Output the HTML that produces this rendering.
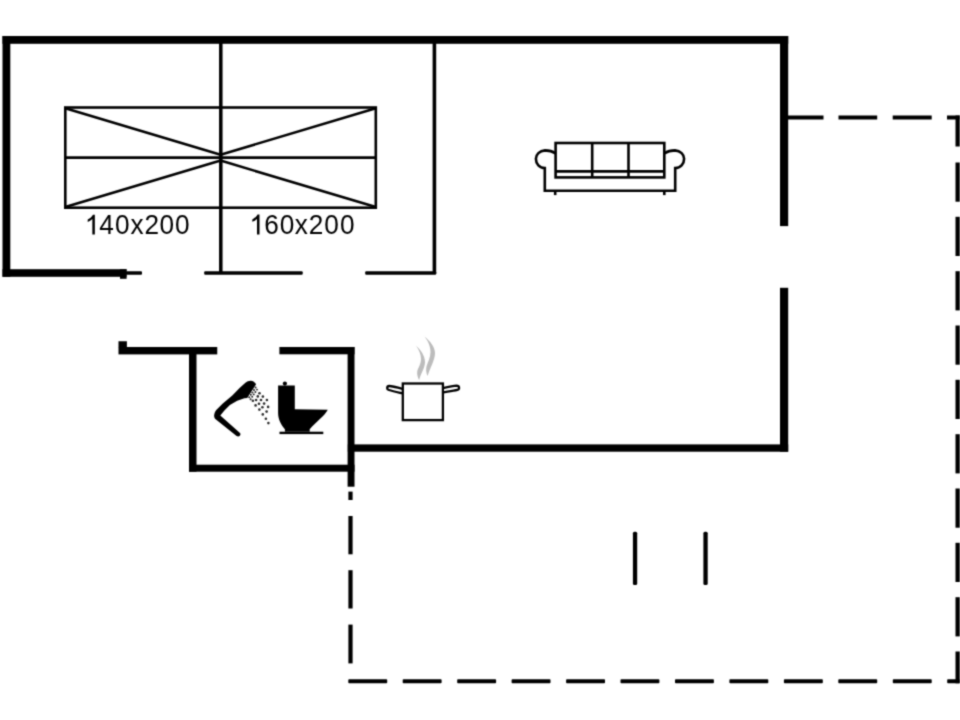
<!DOCTYPE html>
<html>
<head>
<meta charset="utf-8">
<style>
html,body{margin:0;padding:0;background:#fff;width:960px;height:720px;overflow:hidden;}
svg{display:block;}
text{font-family:"Liberation Sans", sans-serif;}
</style>
</head>
<body>
<svg width="960" height="720" viewBox="0 0 960 720">
<defs><filter id="soft" x="-2%" y="-2%" width="104%" height="104%"><feConvolveMatrix order="3" kernelMatrix="1 3 1 3 12 3 1 3 1" divisor="28" edgeMode="none"/></filter></defs>
<rect x="0" y="0" width="960" height="720" fill="#fff"/>
<g filter="url(#soft)">
<g fill="#000">
  <!-- outer walls upper block -->
  <rect x="2.5" y="36" width="785.7" height="7.8"/>
  <rect x="2.5" y="36" width="7.8" height="240.8"/>
  <rect x="2.5" y="269.2" width="124" height="7.6"/>
  <rect x="120" y="269.2" width="6.6" height="9.6"/>
  <rect x="126" y="271.2" width="16" height="3.5" rx="1"/>
  <rect x="204.2" y="271.2" width="98.5" height="3.5" rx="1"/>
  <rect x="365.2" y="271.2" width="71" height="3.5" rx="1"/>
  <rect x="219.05" y="43" width="3.5" height="231"/>
  <rect x="432.6" y="43" width="3.6" height="231"/>
  <rect x="780" y="36" width="8.2" height="190.1"/>
  <rect x="780" y="287.8" width="8.2" height="163.9"/>
  <rect x="347.8" y="444.4" width="440.4" height="7.3"/>
  <!-- bathroom -->
  <rect x="347.6" y="347" width="6.9" height="139.7"/>
  <rect x="279.4" y="347" width="75.1" height="7.3"/>
  <rect x="118.5" y="347" width="98.75" height="7.4"/>
  <rect x="118.5" y="341.25" width="8.4" height="6"/>
  <rect x="189" y="347" width="7.5" height="124.7"/>
  <rect x="189" y="464.7" width="165.5" height="7"/>
  <!-- interior vertical lines -->
  <rect x="632.9" y="531.7" width="4.3" height="53.3" rx="1.5"/>
  <rect x="703.4" y="531.7" width="4.3" height="53.3" rx="1.5"/>
</g>

<!-- dashed outline -->
<g fill="#000">
  <!-- top -->
  <rect x="785" y="115.5" width="38.5" height="4"/>
  <rect x="838.5" y="115.5" width="38.7" height="4"/>
  <rect x="892.7" y="115.5" width="39" height="4"/>
  <rect x="947" y="115.5" width="12.8" height="4"/>
  <rect x="955.5" y="115.5" width="4.3" height="31"/>
  <!-- right -->
  <rect x="955.5" y="162.5" width="4.3" height="39.2"/>
  <rect x="955.5" y="216.8" width="4.3" height="39.2"/>
  <rect x="955.5" y="271.2" width="4.3" height="39.2"/>
  <rect x="955.5" y="325.5" width="4.3" height="39.2"/>
  <rect x="955.5" y="379.8" width="4.3" height="39.2"/>
  <rect x="955.5" y="434.2" width="4.3" height="39.2"/>
  <rect x="955.5" y="488.5" width="4.3" height="39.2"/>
  <rect x="955.5" y="542.8" width="4.3" height="39.2"/>
  <rect x="955.5" y="597.2" width="4.3" height="39.2"/>
  <rect x="955.5" y="651.5" width="4.3" height="31.8"/>
  <!-- bottom -->
  <rect x="348.3" y="679.2" width="38.9" height="4.1" rx="0.8"/>
  <rect x="402.7" y="679.2" width="38.9" height="4.1" rx="0.8"/>
  <rect x="457.2" y="679.2" width="38.9" height="4.1" rx="0.8"/>
  <rect x="511.6" y="679.2" width="38.9" height="4.1" rx="0.8"/>
  <rect x="566.1" y="679.2" width="38.9" height="4.1" rx="0.8"/>
  <rect x="620.5" y="679.2" width="38.9" height="4.1" rx="0.8"/>
  <rect x="675" y="679.2" width="38.9" height="4.1" rx="0.8"/>
  <rect x="729.4" y="679.2" width="38.9" height="4.1" rx="0.8"/>
  <rect x="783.9" y="679.2" width="38.9" height="4.1" rx="0.8"/>
  <rect x="838.3" y="679.2" width="38.9" height="4.1" rx="0.8"/>
  <rect x="892.8" y="679.2" width="38.9" height="4.1" rx="0.8"/>
  <rect x="947.2" y="679.2" width="12.6" height="4.1" rx="0.8"/>
  <!-- left -->
  <rect x="348.4" y="491.6" width="4.2" height="8.4"/>
  <rect x="348.4" y="516" width="4.2" height="38.3"/>
  <rect x="348.4" y="570.2" width="4.2" height="38.3"/>
  <rect x="348.4" y="624.6" width="4.2" height="38.8"/>
</g>

<!-- bed -->
<g stroke="#000" stroke-width="2.6" fill="none">
  <rect x="65.3" y="107.5" width="310.5" height="100.2"/>
  <line x1="65.3" y1="157.6" x2="375.8" y2="157.6"/>
  <line x1="65.3" y1="108.3" x2="220.6" y2="154.7"/>
  <line x1="65.3" y1="207.1" x2="220.6" y2="160.6"/>
  <line x1="375.8" y1="108.3" x2="220.6" y2="154.7"/>
  <line x1="375.8" y1="207.1" x2="220.6" y2="160.6"/>
</g>
<path fill="#000" d="M94.85,214.8 L94.85,234.6 L92.35,234.6 L92.35,219.1 C91,220.3 89.4,221.3 87.7,222 L87.7,219.6 C90.1,218.4 92,216.6 93,214.8 Z"/>
<g transform="scale(0.92,1)"><text x="107.80 124.95 141.90 156.96 173.26 190.27" y="234.4" font-size="28.5" fill="#000">40x200</text></g>
<path fill="#000" d="M259.5,214.6 L259.5,234.6 L257,234.6 L257,218.9 C255.6,220.1 254,221.1 252.3,221.8 L252.3,219.4 C254.7,218.2 256.6,216.4 257.6,214.6 Z"/>
<g transform="scale(0.92,1)"><text x="287.26 304.18 320.43 335.54 352.5 369.46" y="234.4" font-size="28.5" fill="#000">60x200</text></g>

<!-- sofa -->
<g stroke="#000" stroke-width="2.6" fill="none" transform="translate(0,0.5)">
  <rect x="555.6" y="142.5" width="108.7" height="34.4"/>
  <line x1="555.6" y1="170.9" x2="664.3" y2="170.9"/>
  <line x1="592.2" y1="142.5" x2="592.2" y2="176.9"/>
  <line x1="628.5" y1="142.5" x2="628.5" y2="176.9"/>
  <path d="M555.6,153 C552,150.5 548.5,149.9 545,149.9 C539.5,150.2 535.9,154 535.9,158.3 C535.9,163.5 539.5,167.6 544.8,167.6 L544.8,190.3 L675.2,190.3 L675.2,167.6 C680.5,167.6 684.1,163.5 684.1,158.3 C684.1,154 680.5,150.2 675,149.9 C671.5,149.9 668,150.5 664.3,153"/>
  <line x1="555.2" y1="190" x2="555.2" y2="194.6"/>
  <line x1="664.3" y1="190" x2="664.3" y2="194.6"/>
</g>

<!-- pot -->
<g stroke="#000" stroke-width="2.3" fill="none">
  <rect x="402.8" y="383.5" width="40.1" height="36.6"/>
  <path d="M402.6,388.8 C398,387.8 392.5,385.9 389.2,386 C386.6,386.2 386.6,389.4 389,390 C393,391.1 398.5,392.4 402.6,393.4"/>
  <path d="M442.9,388.2 C447,387.2 453,385.8 456.6,385.7 C459.6,385.7 459.8,389.2 457.4,389.8 C453,390.8 447,391.8 442.9,392.6"/>
</g>
<g fill="#bcbcbc">
  <path d="M416.1,345.7 C421,350 425,356 425,362 C425,368 420.5,374 419.1,380.2 C417.5,377 416.8,374 417.3,371 C418.5,367 421,364 421,359 C421,354 419,350 416.1,345.7 Z"/>
  <path d="M424.5,336.5 C430,341 435,347 435,353 C435,360 430,368 427.6,376 C426,373 425.8,369 426.6,366 C428,362 430.5,357 430.5,352 C430.5,346 428,341 424.5,336.5 Z"/>
</g>

<!-- shower -->
<g fill="#000">
  <path d="M214.1,415.6 C214.4,413.2 215,411.5 216.25,410 L222.5,403.75 L232.3,395.4 L239.6,388.1 L245.4,382.8 C247,381.3 249,380.6 250.8,380.7 C253,380.9 255,382.3 256.1,384.2 L247.2,397.9 L244.4,398.3 L237.2,400.8 L229.9,405.1 L224.4,410.6 L220.3,415.4 L240,433.1 C240.8,434 240.5,435.3 239.6,436 C238.8,436.6 237.6,436.6 236.6,436 L215,418.75 C214.3,417.8 214,416.5 214.1,415.6 Z"/>
</g>
<g fill="#222">
  <circle cx="255.6" cy="387.6" r="1.0"/>
  <circle cx="254.0" cy="390.0" r="1.0"/>
  <circle cx="252.4" cy="392.4" r="1.0"/>
  <circle cx="250.8" cy="394.8" r="1.0"/>
  <circle cx="249.2" cy="397.2" r="1.0"/>
  <circle cx="257.0" cy="389.6" r="0.95"/>
  <circle cx="255.4" cy="392.0" r="0.95"/>
  <circle cx="253.8" cy="394.4" r="0.95"/>
  <circle cx="252.2" cy="396.8" r="0.95"/>
  <circle cx="250.6" cy="399.2" r="0.95"/>
</g>
<g fill="#2a2a2a">
  <circle cx="259.5" cy="393.2" r="1.3"/>
  <circle cx="262.9" cy="396.6" r="1.3"/>
  <circle cx="266.9" cy="400" r="1.3"/>
  <circle cx="257.8" cy="396.4" r="1.3"/>
  <circle cx="261.0" cy="400" r="1.3"/>
  <circle cx="264.1" cy="403.6" r="1.3"/>
  <circle cx="268.1" cy="406.9" r="1.3"/>
  <circle cx="256.1" cy="400" r="1.3"/>
  <circle cx="259.0" cy="403.7" r="1.3"/>
  <circle cx="262.4" cy="407.3" r="1.3"/>
  <circle cx="266.6" cy="411.6" r="1.3"/>
  <circle cx="255.6" cy="405.4" r="1.3"/>
  <circle cx="259.4" cy="409.6" r="1.3"/>
  <circle cx="262.8" cy="414.4" r="1.3"/>
  <circle cx="265.9" cy="418.75" r="1.3"/>
  <circle cx="268.4" cy="423.1" r="1.3"/>
  <circle cx="252.9" cy="400.8" r="1.3"/>
</g>

<!-- toilet -->
<g fill="#000">
  <circle cx="284.9" cy="383.6" r="2.1"/>
  <path d="M278.1,385.4 L294.8,385.4 L294.8,409.3 L327.8,409.8 C324.5,416 316,422 309.7,429.3 L309.7,431.7 L284.9,431.7 L284.9,429.2 C281,425 278.1,419 278.1,413 Z"/>
  <rect x="279.5" y="431.7" width="43.8" height="2.4"/>
</g>
</g>
</svg>
</body>
</html>
